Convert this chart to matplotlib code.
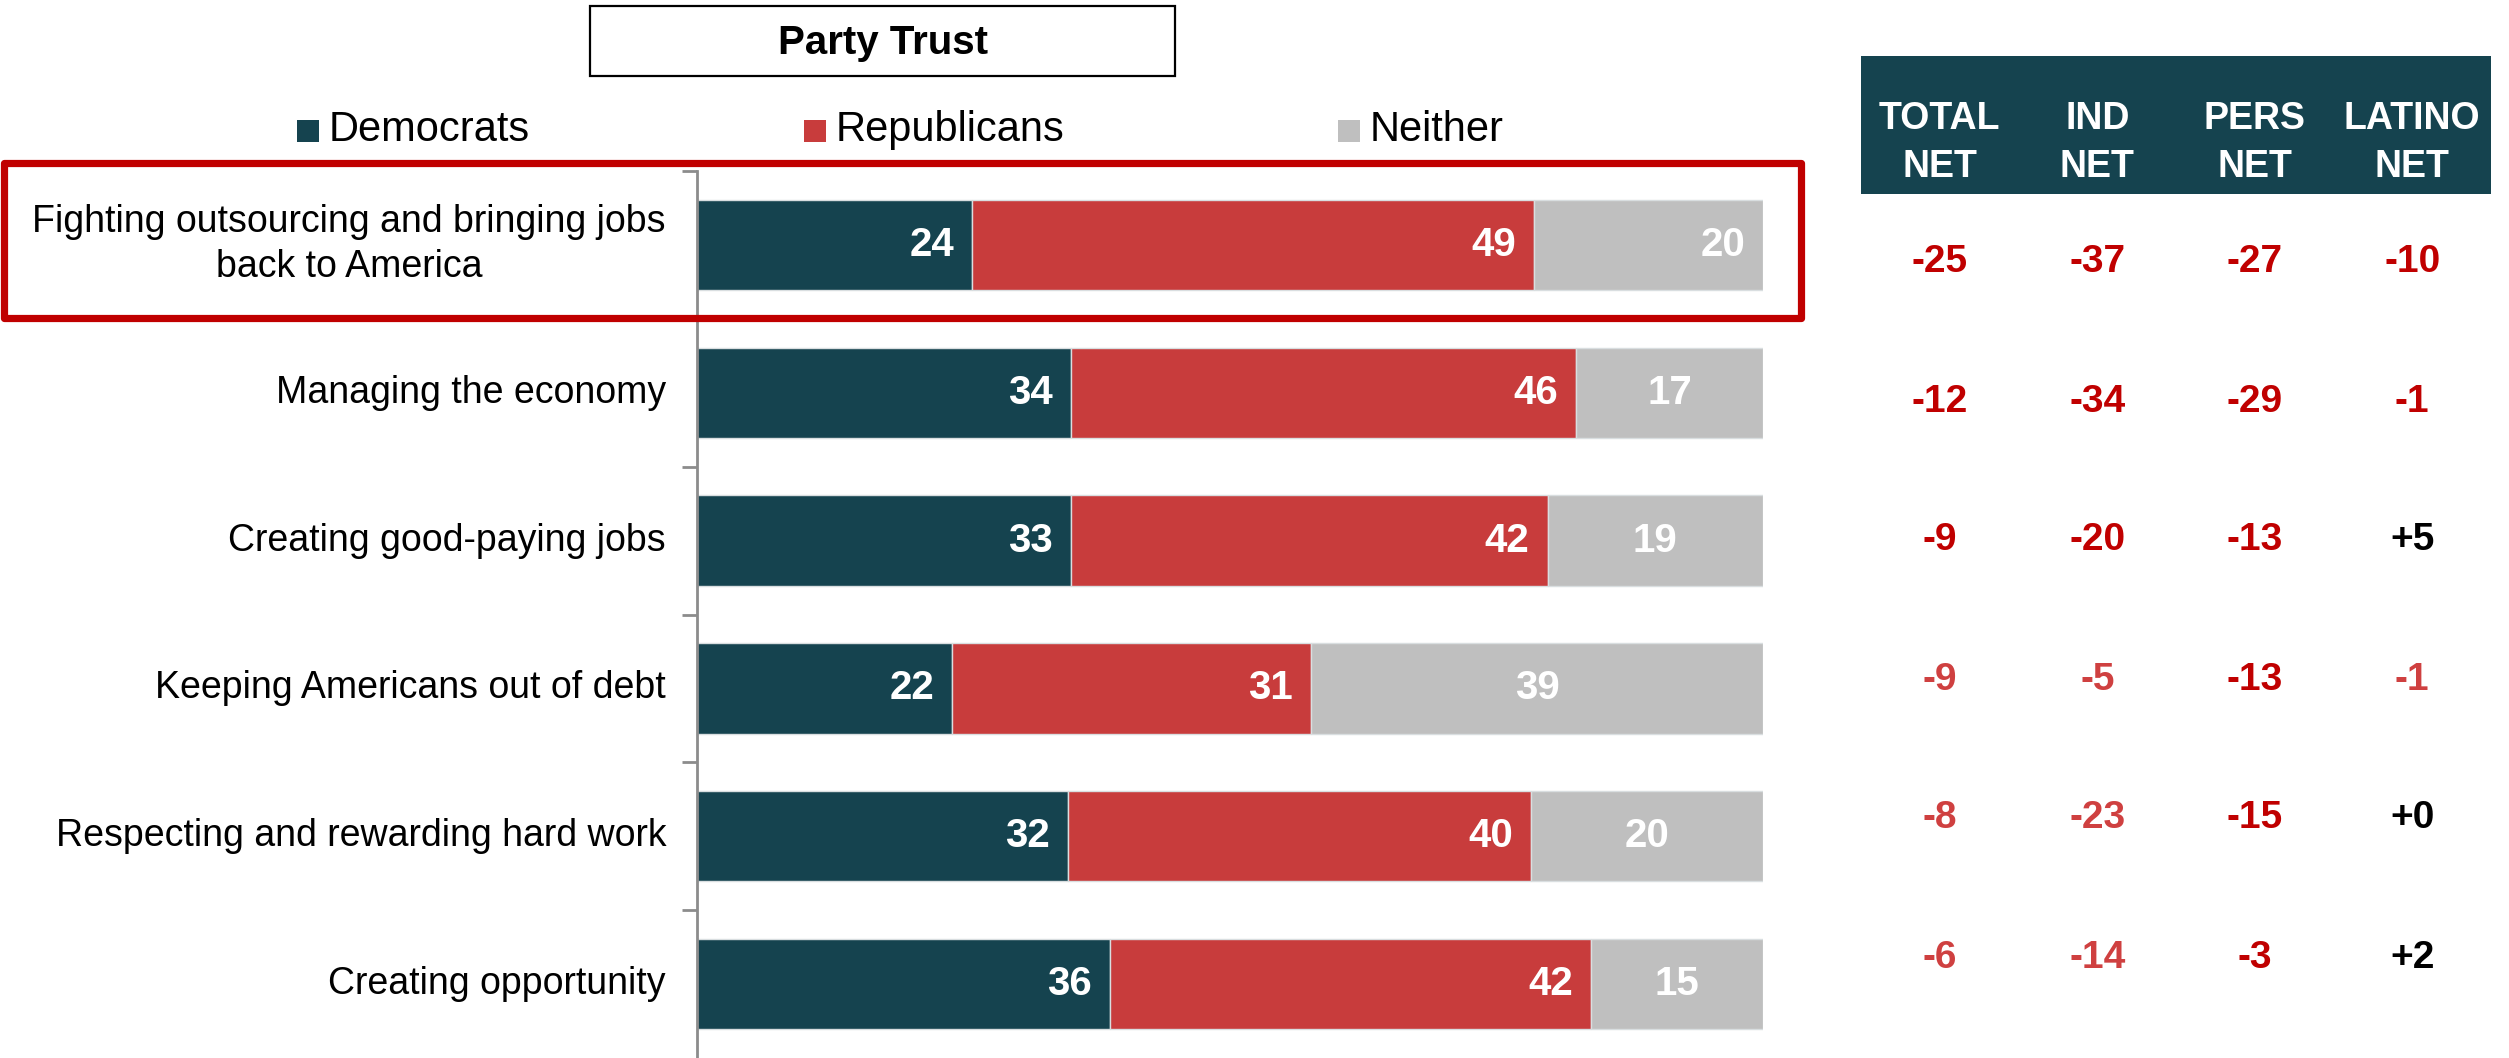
import matplotlib
matplotlib.use("Agg")
import matplotlib.pyplot as plt
from matplotlib.patches import Rectangle
import numpy as np

plt.rcParams['font.family'] = ['Liberation Sans', 'DejaVu Sans']

# ---------------- data ----------------
categories = [
    "Fighting outsourcing and bringing jobs\nback to America",
    "Managing the economy",
    "Creating good-paying jobs",
    "Keeping Americans out of debt",
    "Respecting and rewarding hard work",
    "Creating opportunity",
]
democrats = [24, 34, 33, 22, 32, 36]
republicans = [49, 46, 42, 31, 40, 42]
neither = [20, 17, 19, 39, 20, 15]
series_names = ["Democrats", "Republicans", "Neither"]

net_headers = ["TOTAL\nNET", "IND\nNET", "PERS\nNET", "LATINO\nNET"]
total_net = [-25, -12, -9, -9, -8, -6]
ind_net = [-37, -34, -20, -5, -23, -14]
pers_net = [-27, -29, -13, -13, -15, -3]
latino_net = [-10, -1, 5, -1, 0, 2]
# shade of red used for each negative cell (1 = dark, 0 = light)
total_dark = [1, 1, 1, 0, 0, 0]
ind_dark = [1, 1, 1, 0, 0, 0]
pers_dark = [1, 1, 1, 1, 1, 1]
latino_dark = [1, 1, 1, 0, 1, 1]

# label placement style for the "Neither" segment (True = inside end)
neither_label_end = [True, False, False, False, False, False]

# ---------------- style ----------------
C_DEM = "#15434F"
C_REP = "#C83C3C"
C_NEI = "#BFBFBF"
C_DARKRED = "#C00000"
C_LIGHTRED = "#CF4040"
C_HEAD = "#15434F"

W, H = 2509, 1058
fig = plt.figure(figsize=(W / 100, H / 100), dpi=100)
fig.patch.set_facecolor("white")


def fx(px):
    return px / W


def fy(py):
    return 1 - py / H


# ---------------- main bar axes ----------------
ax_l, ax_r, ax_t, ax_b = 697, 1763, 171, 1058
ax = fig.add_axes([fx(ax_l), fy(ax_b), fx(ax_r - ax_l), (ax_b - ax_t) / H])
n = len(categories)
y = np.arange(n)
dem = np.array(democrats, float)
rep = np.array(republicans, float)
nei = np.array(neither, float)
tot = dem + rep + nei
d_n, r_n, n_n = dem / tot, rep / tot, nei / tot

bh = 0.61
ec = "#D9DEE0"
ax.barh(y, d_n, height=bh, color=C_DEM, edgecolor=ec, linewidth=1)
ax.barh(y, r_n, left=d_n, height=bh, color=C_REP, edgecolor=ec, linewidth=1)
ax.barh(y, n_n, left=d_n + r_n, height=bh, color=C_NEI, edgecolor=ec, linewidth=1)

ax.set_xlim(0, 1)
ax.set_ylim(n - 0.5, -0.5)
for s in ["top", "right", "bottom"]:
    ax.spines[s].set_visible(False)
ax.spines["left"].set_color("#8C8C8C")
ax.spines["left"].set_linewidth(2)
ax.set_xticks([])
ax.set_yticks(np.arange(-0.5, n - 0.5, 1.0))
ax.set_yticklabels([])
ax.tick_params(axis="y", direction="out", length=11, width=2, color="#8C8C8C")

pad_px = 18 / (ax_r - ax_l)
for i in range(n):
    ax.text(d_n[i] - pad_px, y[i], f"{democrats[i]}", ha="right", va="center",
            color="white", fontsize=29, fontweight="bold")
    ax.text(d_n[i] + r_n[i] - pad_px, y[i], f"{republicans[i]}", ha="right", va="center",
            color="white", fontsize=29, fontweight="bold")
    if neither_label_end[i]:
        ax.text(d_n[i] + r_n[i] + n_n[i] - pad_px, y[i], f"{neither[i]}", ha="right",
                va="center", color="white", fontsize=29, fontweight="bold")
    else:
        ax.text(d_n[i] + r_n[i] + n_n[i] / 2, y[i], f"{neither[i]}", ha="center",
                va="center", color="white", fontsize=29, fontweight="bold")
    ax.text(-31 / (ax_r - ax_l), y[i], categories[i], ha="right", va="center",
            multialignment="center", fontsize=27, color="black",
            transform=ax.get_yaxis_transform(), linespacing=1.32)

# ---------------- title box ----------------
fig.patches.append(Rectangle((fx(590), fy(76)), fx(1175 - 590), (76 - 6) / H,
                             transform=fig.transFigure, facecolor="white",
                             edgecolor="black", linewidth=1.6))
fig.text(fx(883), fy(43), "Party Trust", ha="center", va="center",
         fontsize=29, fontweight="bold")

# ---------------- legend ----------------
leg_sq_x = [297, 804, 1338]
for name, col, sx in zip(series_names, [C_DEM, C_REP, C_NEI], leg_sq_x):
    fig.patches.append(Rectangle((fx(sx), fy(142)), fx(22), 22 / H,
                                 transform=fig.transFigure, facecolor=col,
                                 edgecolor="none"))
    fig.text(fx(sx + 32), fy(130), name, ha="left", va="center", fontsize=30)

# ---------------- highlight box ----------------
fig.patches.append(Rectangle((fx(4), fy(318)), fx(1801 - 4), (318 - 163) / H,
                             transform=fig.transFigure, facecolor="none",
                             edgecolor=C_DARKRED, linewidth=5.2, zorder=5,
                             joinstyle="round"))

# ---------------- net table ----------------
tx_l, tx_r = 1861, 2491
axh = fig.add_axes([fx(tx_l), fy(194), fx(tx_r - tx_l), (194 - 56) / H])
axh.set_facecolor(C_HEAD)
axh.set_xticks([]); axh.set_yticks([])
for s in axh.spines.values():
    s.set_visible(False)
axh.set_xlim(0, 4); axh.set_ylim(0, 1)
for j, hd in enumerate(net_headers):
    l1, l2 = hd.split("\n")
    axh.text(j + 0.5, 0.545, l1, ha="center", va="center", color="white",
             fontsize=27, fontweight="bold")
    axh.text(j + 0.5, 0.195, l2, ha="center", va="center", color="white",
             fontsize=27, fontweight="bold")

axt = fig.add_axes([fx(tx_l), fy(1027), fx(tx_r - tx_l), (1027 - 193) / H])
axt.set_xlim(0, 4); axt.set_ylim(n - 0.5, -0.5)
axt.axis("off")
cols = [total_net, ind_net, pers_net, latino_net]
shades = [total_dark, ind_dark, pers_dark, latino_dark]
for j, (vals, sh) in enumerate(zip(cols, shades)):
    for i, v in enumerate(vals):
        if v >= 0:
            txt, col = f"+{v}", "black"
        else:
            txt, col = f"{v}", C_DARKRED if sh[i] else C_LIGHTRED
        axt.text(j + 0.5, i, txt, ha="center", va="center", color=col,
                 fontsize=28, fontweight="bold")

fig.savefig("out.png", dpi=100, facecolor="white")
